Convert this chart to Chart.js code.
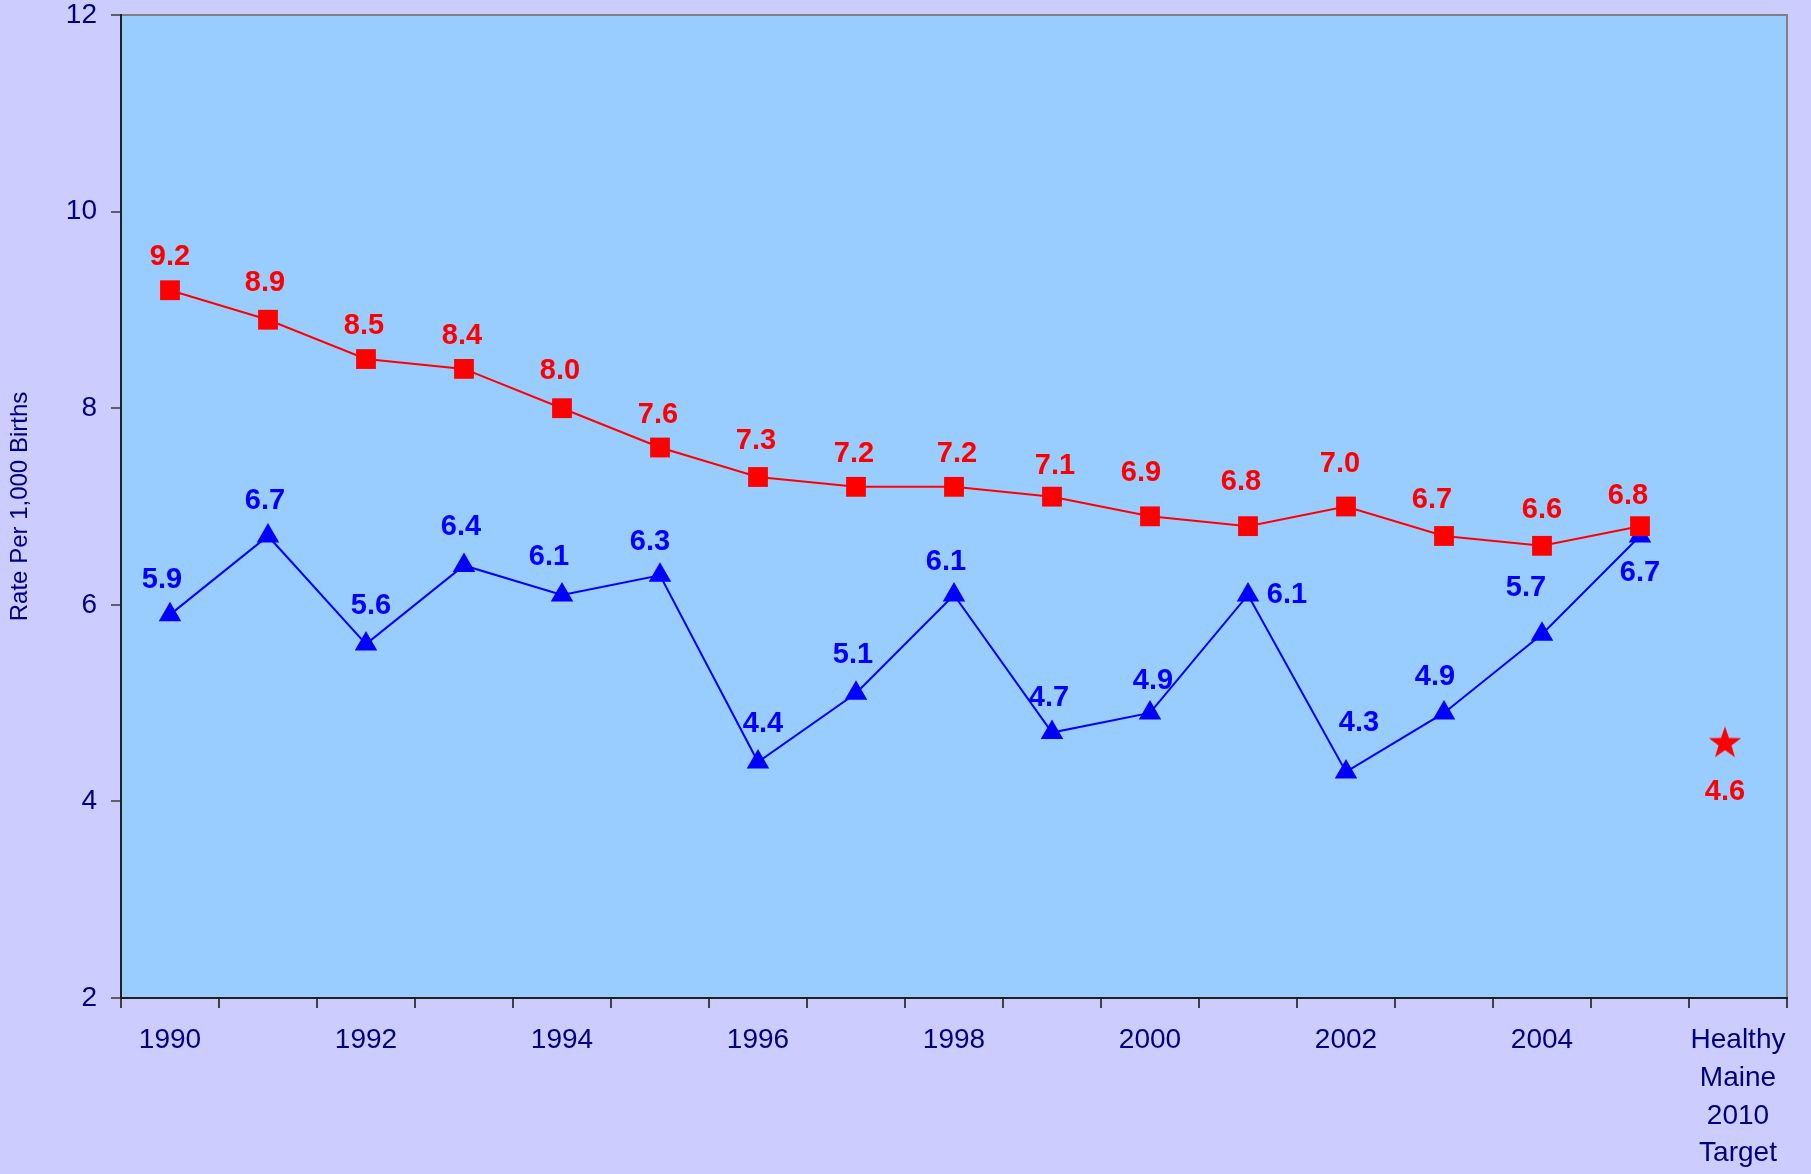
<!DOCTYPE html>
<html>
<head>
<meta charset="utf-8">
<script src="https://cdn.jsdelivr.net/npm/chart.js@4"></script>
<style>
  html, body { margin: 0; padding: 0; background: #CCCCFF; }
  #wrap { width: 1811px; height: 1174px; }
</style>
</head>
<body>
<div id="wrap"><canvas id="rateChart" width="1811" height="1174"></canvas></div>
<script>
const years = ["1990", "1991", "1992", "1993", "1994", "1995", "1996", "1997",
	"1998", "1999", "2000", "2001", "2002", "2003", "2004", "2005",
	["Healthy", "Maine", "2010", "Target"]];
const redRates = [9.2, 8.9, 8.5, 8.4, 8.0, 7.6, 7.3, 7.2, 7.2, 7.1, 6.9, 6.8, 7.0, 6.7, 6.6, 6.8, null];
const blueRates = [5.9, 6.7, 5.6, 6.4, 6.1, 6.3, 4.4, 5.1, 6.1, 4.7, 4.9, 6.1, 4.3, 4.9, 5.7, 6.7, null];
const targetRate = [null, null, null, null, null, null, null, null, null, null, null, null, null, null, null, null, 4.6];
const yTicks = [2, 4, 6, 8, 10, 12];

// label nudges (pixels) so the value labels sit like in the original
const redLabelDx = [0, -3, -2, -2, -2, -2, -2, -2, 3, 3, -9, -7, -6, -12, 0, -12, 0];
const redLabelDy = [-33, -37, -33, -33, -37, -33, -36, -33, -33, -31, -43, -44, -43, -36, -36, -30, 0];
const blueLabelDx = [-8, -3, 5, -3, -13, -10, 5, -3, -8, -3, 3, 39, 13, -9, -16, 0, 0];
const blueLabelDy = [-35, -35, -38, -38, -38, -33, -38, -38, -33, -35, -32, 0, -49, -36, -46, 37, 0];

const FONT = "'Liberation Sans', Arial, sans-serif";
const NAVY = "#000080";

// filled five-point star, drawn a little left of the category centre like the original
const makeStar = (size, shift, color) => {
	const c = document.createElement("canvas");
	c.width = size + 2 * Math.abs(shift);
	c.height = size;
	const g = c.getContext("2d");
	const cx = c.width / 2 + shift, cy = size / 2 + 1;
	const outer = size / 2 - 1, inner = outer * 0.4;
	g.beginPath();
	for (let i = 0; i < 10; i++) {
		const r = i % 2 === 0 ? outer : inner;
		const a = -Math.PI / 2 + i * Math.PI / 5;
		g.lineTo(cx + r * Math.cos(a), cy + r * Math.sin(a));
	}
	g.closePath();
	g.fillStyle = color;
	g.fill();
	return c;
};

const plotBackground = {
	id: "plotBackground",
	beforeDraw(chart) {
		const { ctx, chartArea: a } = chart;
		ctx.save();
		ctx.fillStyle = "#99CCFF";
		ctx.fillRect(a.left, a.top, a.right - a.left, a.bottom - a.top);
		ctx.strokeStyle = "#808080";
		ctx.lineWidth = 2;
		ctx.beginPath();
		ctx.moveTo(a.left, a.top);
		ctx.lineTo(a.right, a.top);
		ctx.lineTo(a.right, a.bottom);
		ctx.stroke();
		ctx.restore();
	},
};

const valueLabels = {
	id: "valueLabels",
	afterDatasetsDraw(chart) {
		const ctx = chart.ctx;
		ctx.save();
		ctx.font = "bold 29px " + FONT;
		ctx.textAlign = "center";
		ctx.textBaseline = "middle";
		chart.data.datasets.forEach((ds, i) => {
			const meta = chart.getDatasetMeta(i);
			meta.data.forEach((pt, j) => {
				const v = ds.data[j];
				if (v === null) return;
				ctx.fillStyle = ds.labelColor;
				ctx.fillText(v.toFixed(1), pt.x + ds.labelDx[j], pt.y + ds.labelDy[j]);
			});
		});
		ctx.restore();
	},
};

new Chart(document.getElementById("rateChart").getContext("2d"), {
	type: "line",
	data: {
		labels: years,
		datasets: [
			{
				data: redRates,
				borderColor: "#FF0000",
				backgroundColor: "#FF0000",
				borderWidth: 2,
				pointStyle: "rect",
				pointRadius: 14,
				pointBorderWidth: 0,
				order: 1,
				labelColor: "#FF0000",
				labelDx: redLabelDx,
				labelDy: redLabelDy,
			},
			{
				data: blueRates,
				borderColor: "#0000FF",
				backgroundColor: "#0000FF",
				borderWidth: 2,
				pointStyle: "triangle",
				pointRadius: 13,
				pointBorderWidth: 0,
				order: 2,
				labelColor: "#0000FF",
				labelDx: blueLabelDx,
				labelDy: blueLabelDy,
			},
			{
				data: targetRate,
				showLine: false,
				pointStyle: makeStar(36, -13, "#FF0000"),
				order: 0,
				labelColor: "#FF0000",
				labelDx: targetRate.map(() => -13),
				labelDy: targetRate.map(() => 50),
			},
		],
	},
	options: {
		responsive: false,
		animation: false,
		events: [],
		layout: { padding: { top: 15, right: 24, left: 0, bottom: 0 } },
		plugins: {
			legend: { display: false },
			tooltip: { enabled: false },
		},
		scales: {
			x: {
				offset: true,
				grid: {
					offset: true,
					drawOnChartArea: false,
					tickLength: 10,
					color: "#404040",
					lineWidth: 2,
				},
				border: { display: true, color: "#202020", width: 2 },
				ticks: {
					autoSkip: false,
					maxRotation: 0,
					padding: 14,
					color: NAVY,
					font: { family: FONT, size: 28, lineHeight: 1.34 },
					callback: function (value, index) {
						if (index === years.length - 1 || index % 2 === 0) return years[index];
						return "";
					},
				},
				afterFit: (scale) => {
					scale.height = 176;
					scale.paddingLeft = 0;
					scale.paddingRight = 0;
				},
			},
			y: {
				min: 2,
				max: 12,
				afterBuildTicks: (scale) => { scale.ticks = yTicks.map((v) => ({ value: v })); },
				grid: {
					drawOnChartArea: false,
					tickLength: 10,
					color: "#606060",
					lineWidth: 2,
				},
				border: { display: true, color: "#202020", width: 2 },
				ticks: {
					padding: 14,
					color: NAVY,
					font: { family: FONT, size: 28 },
				},
				title: {
					display: true,
					text: "Rate Per 1,000 Births",
					color: NAVY,
					font: { family: FONT, size: 24, lineHeight: 1.2 },
					padding: { top: 6, bottom: 0 },
				},
				afterFit: (scale) => {
					scale.width = 121;
					scale.paddingTop = 0;
					scale.paddingBottom = 0;
				},
			},
		},
	},
	plugins: [plotBackground, valueLabels],
});
</script>
</body>
</html>
